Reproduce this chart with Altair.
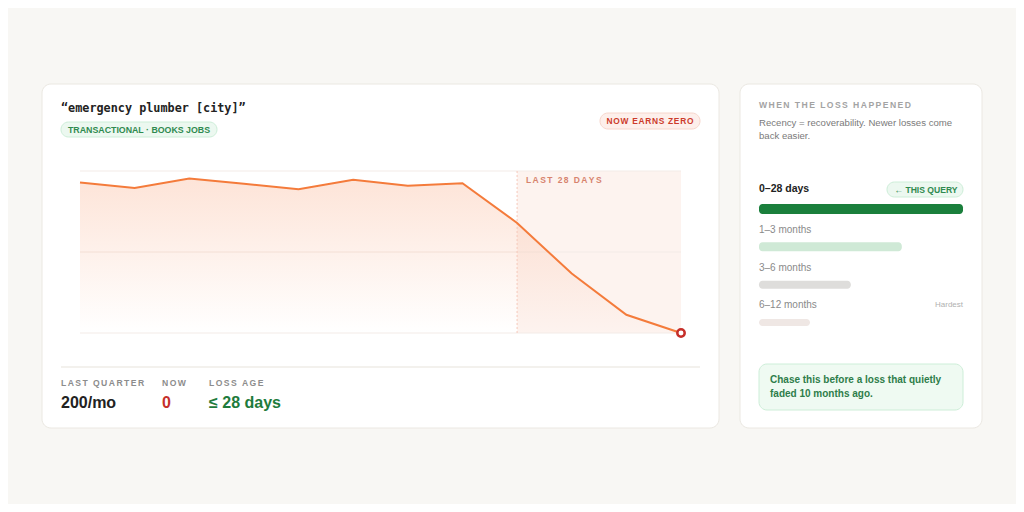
import altair as alt
import pandas as pd

# ---------------- data ----------------
weeks = list(range(12))
clicks = [223, 215, 229, 221, 213, 227, 218, 222, 163, 88, 27, 0]
grid_vals = [0, 120, 240]
window_start = 8
window_end = 11

title_text = "\u201cemergency plumber [city]\u201d"
badge_text = "TRANSACTIONAL \u00b7 BOOKS JOBS"
alert_text = "NOW EARNS ZERO"
window_label = "LAST 28 DAYS"
stat_labels = ["LAST QUARTER", "NOW", "LOSS AGE"]
stat_values = ["200/mo", "0", "\u2264 28 days"]

side_title = "WHEN THE LOSS HAPPENED"
side_sub = ["Recency = recoverability. Newer losses come", "back easier."]
age_buckets = ["0\u201328 days", "1\u20133 months", "3\u20136 months", "6\u201312 months"]
recoverability = [100, 70, 45, 25]
query_badge = "\u2190 THIS QUERY"
hardest_text = "Hardest"
callout = ["Chase this before a loss that quietly", "faded 10 months ago."]

# ---------------- styles ----------------
FONT = "Liberation Sans"
W, H = 1008, 496
THIN = "\u2009"
HAIR = "\u200a"
one = pd.DataFrame({"a": [0]})

line_df = pd.DataFrame({"week": weeks, "clicks": clicks})
xs = alt.Scale(domain=[0, 11], range=[72, 673])
ys = alt.Scale(domain=[0, 240], range=[325, 163])


def spaced(s, sep):
    # imitate CSS letter-spacing with narrow space characters
    return sep.join(s)


def box(x, x2, y, y2, fill, stroke, r):
    return alt.Chart(one).mark_rect(fill=fill, stroke=stroke, strokeWidth=1, cornerRadius=r).encode(
        x=alt.value(x), x2=alt.value(x2), y=alt.value(y), y2=alt.value(y2))


def txt(t, x, y, size, color, weight="normal", align="left", font=FONT):
    return alt.Chart(one).mark_text(text=t, fontSize=size, color=color, fontWeight=weight,
                                    align=align, baseline="middle", font=font).encode(
        x=alt.value(x), y=alt.value(y))


layers = []
# cards
layers.append(box(34, 711, 76, 420, "#ffffff", "#ebe8e2", 9))
layers.append(box(732, 974, 76, 420, "#ffffff", "#ebe8e2", 9))

# left header
layers.append(txt(title_text, 53, 100, 11.8, "#222222", "bold", font="DejaVu Sans Mono"))
layers.append(box(53, 209, 114, 129, "#ecf8f0", "#cdeed8", 8))
layers.append(txt(badge_text, 60, 122, 8.8, "#2f8a4f", "bold"))
layers.append(box(592, 692, 105, 121, "#fdefeb", "#f7d6cc", 8))
layers.append(txt(spaced(alert_text, HAIR), 642, 113, 8.4, "#cc3b2b", "bold", align="center"))

# line chart
win_df = pd.DataFrame({"s": [window_start], "e": [window_end], "lo": [0], "hi": [240]})
layers.append(alt.Chart(win_df).mark_rect(fill="#fdf3ef").encode(
    x=alt.X("s:Q", scale=xs, axis=None), x2="e:Q",
    y=alt.Y("lo:Q", scale=ys, axis=None), y2="hi:Q"))
grid_df = pd.DataFrame({"g": grid_vals})
layers.append(alt.Chart(grid_df).mark_rule(color="#f3ebe7", strokeWidth=1).encode(
    y=alt.Y("g:Q", scale=ys, axis=None), x=alt.value(72), x2=alt.value(673)))
layers.append(alt.Chart(line_df).mark_area(
    color=alt.Gradient(gradient="linear", x1=1, x2=1, y1=0, y2=1,
                       stops=[alt.GradientStop(color="rgba(246,120,60,0.20)", offset=0),
                              alt.GradientStop(color="rgba(246,120,60,0.0)", offset=1)])).encode(
    x=alt.X("week:Q", scale=xs, axis=None), y=alt.Y("clicks:Q", scale=ys, axis=None),
    y2=alt.datum(0)))
layers.append(alt.Chart(win_df).mark_rule(color="#f6c8bb", strokeDash=[2, 2], strokeWidth=1).encode(
    x=alt.X("s:Q", scale=xs, axis=None), y=alt.Y("lo:Q", scale=ys, axis=None), y2="hi:Q"))
layers.append(txt(spaced(window_label, HAIR * 2), 518, 172, 8.5, "#d7836e", "bold"))
layers.append(alt.Chart(line_df).mark_line(color="#f47b3b", strokeWidth=2).encode(
    x=alt.X("week:Q", scale=xs, axis=None), y=alt.Y("clicks:Q", scale=ys, axis=None)))
layers.append(alt.Chart(line_df.tail(1)).mark_point(shape="circle", filled=True, fill="#ffffff",
                                                    stroke="#c62f2a", strokeWidth=2.5, size=55,
                                                    opacity=1).encode(
    x=alt.X("week:Q", scale=xs, axis=None), y=alt.Y("clicks:Q", scale=ys, axis=None)))

# separator and stats
layers.append(alt.Chart(one).mark_rule(color="#efece7", strokeWidth=1.5).encode(
    x=alt.value(53), x2=alt.value(692), y=alt.value(359)))
stat_x = [53, 154, 201]
val_colors = ["#222222", "#c62f2a", "#1e7b3c"]
for i in range(3):
    layers.append(txt(spaced(stat_labels[i], HAIR * 2), stat_x[i], 375, 8.6, "#8c8c8c", "bold"))
    layers.append(txt(stat_values[i], stat_x[i], 395, 16, val_colors[i], "bold"))

# right panel
layers.append(txt(spaced(side_title, HAIR * 2), 751, 97, 8.6, "#a3a3a3", "bold"))
layers.append(txt(side_sub[0], 751, 115, 9.6, "#7a7a7a"))
layers.append(txt(side_sub[1], 751, 128, 9.6, "#7a7a7a"))
layers.append(txt(age_buckets[0], 751, 181, 10.5, "#222222", "bold"))
layers.append(box(879, 955, 174, 189, "#ecf8f0", "#cdeed8", 8))
layers.append(txt(query_badge, 918, 181.5, 8.6, "#2f8a4f", "bold", align="center"))
label_y = [None, 222, 260, 297]
for i in range(1, 4):
    layers.append(txt(age_buckets[i], 751, label_y[i], 10, "#8a8a8a"))
layers.append(txt(hardest_text, 955, 297, 8, "#b0b0b0", align="right"))

bar_df = pd.DataFrame({"bucket": age_buckets, "rec": recoverability})
layers.append(alt.Chart(bar_df).mark_bar(cornerRadius=3.5).encode(
    x=alt.X("rec:Q", scale=alt.Scale(domain=[0, 100], range=[751, 955]), axis=None),
    x2=alt.datum(0),
    y=alt.Y("bucket:N", scale=alt.Scale(type="point", domain=age_buckets, range=[201, 314.5], padding=0),
            axis=None, sort=age_buckets),
    size=alt.Size("bucket:O", scale=alt.Scale(domain=age_buckets, range=[10, 7, 7, 7]), legend=None),
    color=alt.Color("bucket:N", scale=alt.Scale(domain=age_buckets,
                                                range=["#1a7f3c", "#cfe9d6", "#dedddb", "#efe7e4"]),
                    legend=None)))

layers.append(box(751, 955, 356, 402, "#effaf2", "#cdeed8", 8))
layers.append(txt(callout[0], 762, 372, 10, "#2e7d4a", "bold"))
layers.append(txt(callout[1], 762, 386, 10, "#2e7d4a", "bold"))

chart = alt.layer(*layers).resolve_scale(
    x="independent", y="independent", color="independent", size="independent"
).properties(
    width=W, height=H, autosize=alt.AutoSizeParams(type="none"), padding=0,
    background="#f8f7f4"
).configure_view(stroke=None)

chart.save("out.html", embed_options={"renderer": "svg", "actions": False})
